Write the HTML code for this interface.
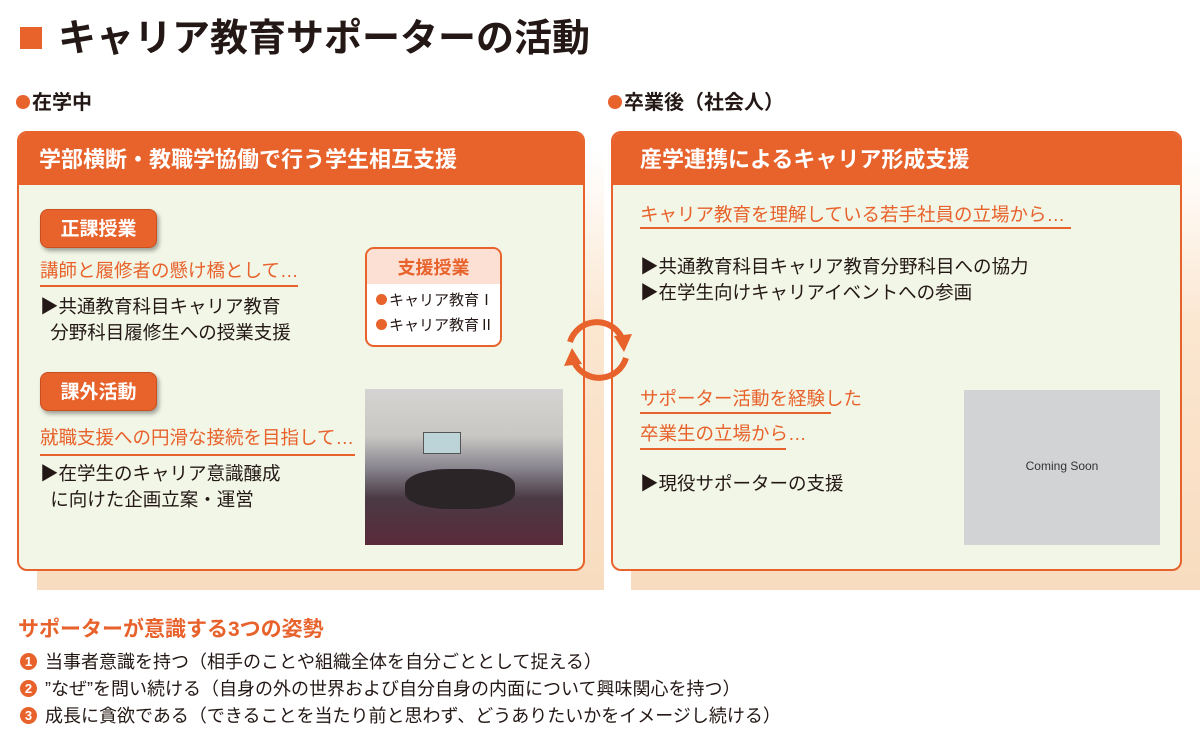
<!DOCTYPE html>
<html><head><meta charset="utf-8"><style>
*{margin:0;padding:0;box-sizing:border-box}
body{width:1200px;height:734px;background:#fff;position:relative;overflow:hidden;font-family:"Liberation Sans","Noto Sans CJK JP",sans-serif;color:#231815}
.a{position:absolute;white-space:nowrap}
.or{color:#e8622c}
.shadow{position:absolute;background:linear-gradient(180deg,#fff 0%,#fbe6d0 40%,#f8dcbf 100%)}
.panel{position:absolute;background:#f2f6e6;border:2px solid #e8622c;border-radius:10px;overflow:hidden}
.hd{position:absolute;left:0;top:0;right:0;height:52px;background:#e8622c;color:#fff;font-weight:bold;font-size:22px;padding-left:20px;line-height:54px}
.btn{position:absolute;width:117px;height:39px;background:#e8622c;border-radius:8px;color:#fff;font-weight:bold;font-size:19px;text-align:center;line-height:39px;box-shadow:2px 3px 4px rgba(0,0,0,.35);border:1px solid #c94f1e}
.ul{position:absolute;height:2px;background:#e8622c}
.t18{font-size:18.5px}
.num{display:inline-block;width:17px;height:17px;border-radius:50%;background:#e8622c;color:#fff;font-size:13px;font-weight:bold;text-align:center;line-height:17px;margin-right:8px;vertical-align:2px}
.dot{display:inline-block;width:11px;height:11px;border-radius:50%;background:#e8622c;margin-right:2px}
</style></head><body>
<div class="a" style="left:20px;top:27px;width:22px;height:22px;background:#e8622c"></div>
<div class="a" style="left:58px;top:16px;font-size:38px;font-weight:bold;line-height:46px">キャリア教育サポーターの活動</div>
<div class="a" style="left:16px;top:90px;font-size:20px;font-weight:bold;line-height:26px"><span class="dot" style="width:14px;height:14px"></span>在学中</div>
<div class="a" style="left:608px;top:90px;font-size:20px;font-weight:bold;line-height:26px"><span class="dot" style="width:14px;height:14px"></span>卒業後（社会人）</div>

<div class="shadow" style="left:37px;top:151px;width:567px;height:439px"></div>
<div class="shadow" style="left:631px;top:151px;width:569px;height:439px"></div>

<div class="panel" style="left:17px;top:131px;width:568px;height:440px">
 <div class="hd">学部横断・教職学協働で行う学生相互支援</div>
</div>
<div class="panel" style="left:611px;top:131px;width:571px;height:440px">
 <div class="hd" style="padding-left:27px">産学連携によるキャリア形成支援</div>
</div>

<div class="btn" style="left:40px;top:209px">正課授業</div>
<div class="a or t18" style="left:40px;top:258px;line-height:26px">講師と履修者の懸け橋として…</div>
<div class="ul" style="left:40px;top:285px;width:258px"></div>
<div class="a t18" style="left:40px;top:294px;line-height:26px">▶共通教育科目キャリア教育<br>&nbsp;&nbsp;分野科目履修生への授業支援</div>

<div class="a" style="left:365px;top:247px;width:137px;height:100px;border:2px solid #e8622c;border-radius:9px;background:#fff;overflow:hidden">
 <div style="height:35px;background:#fbe0d3;color:#e8622c;font-size:18px;font-weight:bold;text-align:center;line-height:38px">支援授業</div>
 <div style="font-size:15px;line-height:25px;padding:4px 0 0 9px"><span class="dot"></span>キャリア教育Ⅰ<br><span class="dot"></span>キャリア教育Ⅱ</div>
</div>

<div class="btn" style="left:40px;top:372px">課外活動</div>
<div class="a or t18" style="left:40px;top:425px;line-height:26px">就職支援への円滑な接続を目指して…</div>
<div class="ul" style="left:40px;top:454px;width:315px"></div>
<div class="a t18" style="left:40px;top:461px;line-height:26px">▶在学生のキャリア意識醸成<br>&nbsp;&nbsp;に向けた企画立案・運営</div>

<div class="a" style="left:365px;top:389px;width:198px;height:156px;background:linear-gradient(180deg,#d6d4d2 0%,#c9c7c4 30%,#8a8790 50%,#4a3a44 70%,#5a2a3a 100%);overflow:hidden">
 <div style="position:absolute;left:58px;top:43px;width:38px;height:22px;background:#bcd3d8;border:1px solid #555"></div>
 <div style="position:absolute;left:40px;top:80px;width:110px;height:40px;background:#2b2528;border-radius:40%"></div>
</div>

<svg class="a" style="left:560px;top:312px" width="76" height="76" viewBox="0 0 76 76">
 <path d="M10 30 A28 28 0 0 1 62 26" fill="none" stroke="#e8622c" stroke-width="6"/>
 <polygon points="54,24 72,22 64,40" fill="#e8622c"/>
 <path d="M66 46 A28 28 0 0 1 14 50" fill="none" stroke="#e8622c" stroke-width="6"/>
 <polygon points="22,52 4,54 12,36" fill="#e8622c"/>
</svg>

<div class="a or t18" style="left:640px;top:202px;line-height:26px">キャリア教育を理解している若手社員の立場から…</div>
<div class="ul" style="left:640px;top:227px;width:431px"></div>
<div class="a t18" style="left:640px;top:254px;line-height:26px">▶共通教育科目キャリア教育分野科目への協力<br>▶在学生向けキャリアイベントへの参画</div>
<div class="a or t18" style="left:640px;top:386px;line-height:26px">サポーター活動を経験した</div>
<div class="ul" style="left:640px;top:412px;width:191px"></div>
<div class="a or t18" style="left:640px;top:421px;line-height:26px">卒業生の立場から…</div>
<div class="ul" style="left:640px;top:448px;width:146px"></div>
<div class="a t18" style="left:640px;top:471px;line-height:26px">▶現役サポーターの支援</div>
<div class="a" style="left:964px;top:390px;width:196px;height:155px;background:#d2d3d5;font-size:12px;text-align:center;line-height:152px;color:#333">Coming Soon</div>

<div class="a or" style="left:18px;top:616px;font-size:21px;font-weight:bold;line-height:28px">サポーターが意識する3つの姿勢</div>
<div class="a" style="left:20px;top:649px;font-size:18px;line-height:27px">
<span class="num">1</span>当事者意識を持つ（相手のことや組織全体を自分ごととして捉える）<br>
<span class="num">2</span>”なぜ”を問い続ける（自身の外の世界および自分自身の内面について興味関心を持つ）<br>
<span class="num">3</span>成長に貪欲である（できることを当たり前と思わず、どうありたいかをイメージし続ける）
</div>
</body></html>
